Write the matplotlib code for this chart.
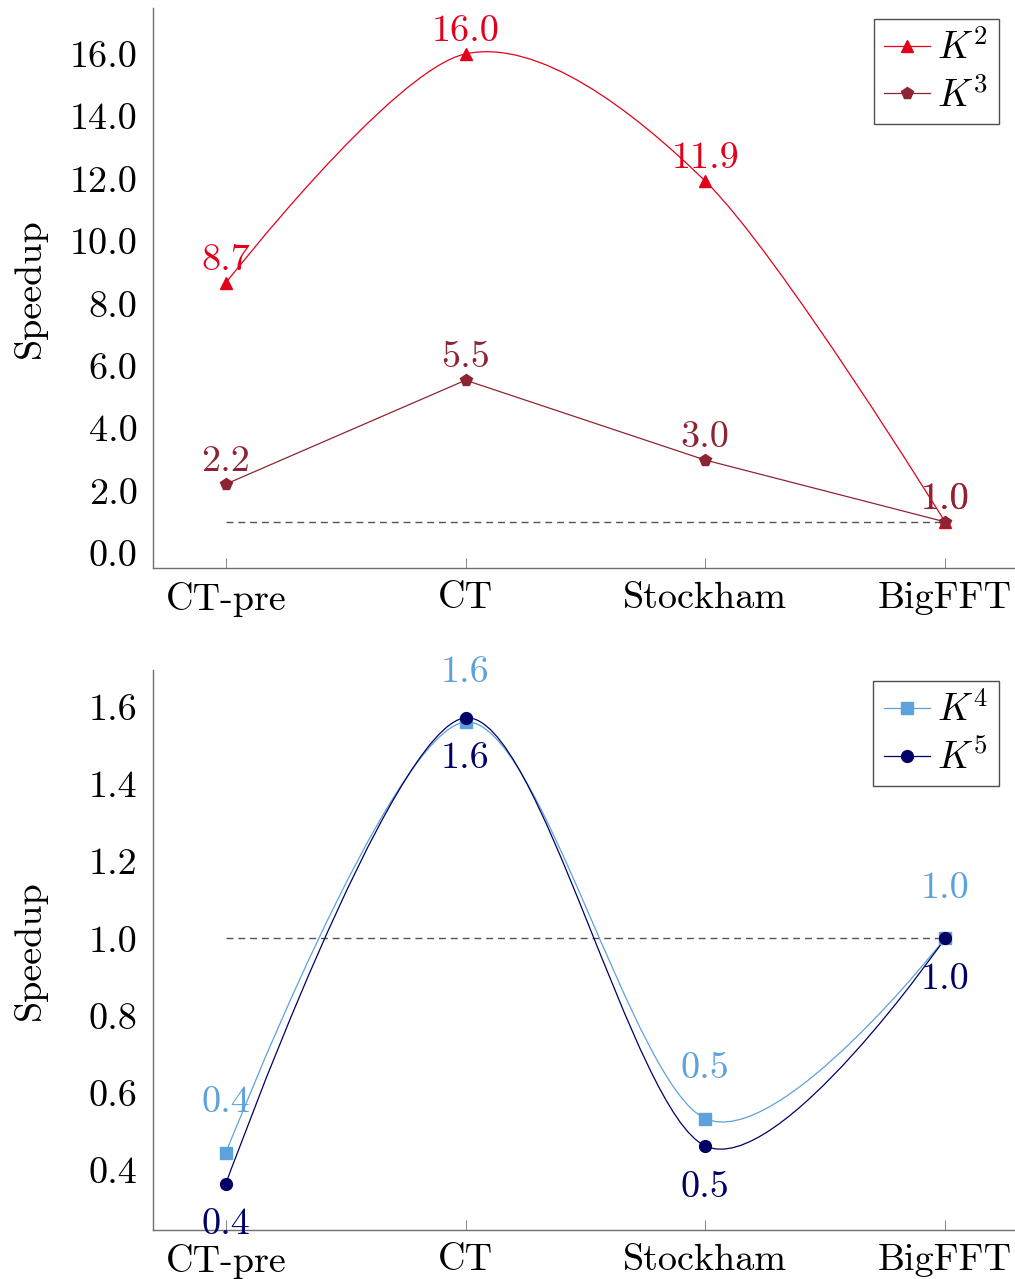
import matplotlib
matplotlib.use("Agg")
import matplotlib.pyplot as plt
from matplotlib.path import Path
from matplotlib.patches import PathPatch
from matplotlib.lines import Line2D
import numpy as np

# ---------------- data ----------------
categories = ["CT-pre", "CT", "Stockham", "BigFFT"]
k2 = [8.66, 16.0, 11.92, 1.0]
k3 = [2.21, 5.54, 2.98, 1.0]
k4 = [0.444, 1.561, 0.533, 1.0]
k5 = [0.364, 1.572, 0.462, 1.0]
baseline = 1.0
top_yticks = [0.0, 2.0, 4.0, 6.0, 8.0, 10.0, 12.0, 14.0, 16.0]
bot_yticks = [0.4, 0.6, 0.8, 1.0, 1.2, 1.4, 1.6]

# ---------------- style ----------------
plt.rcParams["font.family"] = "serif"
plt.rcParams["font.serif"] = ["cmr10"]
plt.rcParams["mathtext.fontset"] = "cm"
plt.rcParams["axes.formatter.use_mathtext"] = True
FS = 27.5

C_K2 = "#E3001B"
C_K3 = "#8E2433"
C_K4 = "#5DA2DA"
C_K5 = "#000066"
C_AX = "#707070"


def smooth_path(xs, ys, tension=0.55):
    f = 0.2775 * tension
    p = np.column_stack([np.asarray(xs, float), np.asarray(ys, float)])
    n = len(p)
    verts = [p[0]]
    codes = [Path.MOVETO]
    for i in range(n - 1):
        if i == 0:
            c1 = p[0]
        else:
            c1 = p[i] + f * (p[i + 1] - p[i - 1])
        if i + 1 == n - 1:
            c2 = p[n - 1]
        else:
            c2 = p[i + 1] - f * (p[i + 2] - p[i])
        verts += [c1, c2, p[i + 1]]
        codes += [Path.CURVE4] * 3
    return Path(verts, codes)


fig = plt.figure(figsize=(10.15, 12.79), dpi=100)
ax1 = fig.add_axes([153 / 1015, 1 - 568 / 1279, 862 / 1015, 560 / 1279])
ax2 = fig.add_axes([153 / 1015, 1 - 1230 / 1279, 862 / 1015, 560 / 1279])

x = np.arange(len(categories))


def style_axes(ax, yticks, ylim, fmt):
    ax.set_xlim(-0.304, 3.292)
    ax.set_ylim(*ylim)
    for s in ["top", "right"]:
        ax.spines[s].set_visible(False)
    for s in ["left", "bottom"]:
        ax.spines[s].set_color(C_AX)
        ax.spines[s].set_linewidth(1.0)
    ax.set_xticks(x)
    ax.set_xticklabels(categories, fontsize=FS)
    ax.set_yticks(yticks)
    ax.set_yticklabels([fmt.format(v) for v in yticks], fontsize=FS)
    ax.tick_params(axis="x", direction="in", length=7, width=0.6, color=C_AX, pad=10)
    ax.tick_params(axis="y", length=0, pad=11)
    ax.set_ylabel("Speedup", fontsize=FS)
    ax.yaxis.set_label_coords(-0.123, 0.5)
    ax.hlines(baseline, x[0], x[-1], colors="#555555", linestyles=(0, (5, 3.5)), linewidth=1.0, zorder=1)


style_axes(ax1, top_yticks, (-0.48, 17.47), "{:.1f}")
style_axes(ax2, bot_yticks, (0.244, 1.696), "{:.1f}")

# ---- top panel ----
ax1.add_patch(PathPatch(smooth_path(x, k2), fill=False, edgecolor=C_K2, lw=0.9, zorder=2))
ax1.plot(x, k2, linestyle="none", marker="^", color=C_K2, ms=8, zorder=3)
ax1.plot(x, k3, color=C_K3, lw=0.9, marker="p", ms=8.5, zorder=3)
for xi, v in zip(x, k2):
    ax1.annotate(f"{v:.1f}", (xi, v), xytext=(0, 16.5), textcoords="offset points",
                 ha="center", va="center", fontsize=FS, color=C_K2, zorder=4)
for xi, v in zip(x, k3):
    ax1.annotate(f"{v:.1f}", (xi, v), xytext=(0, 16.5), textcoords="offset points",
                 ha="center", va="center", fontsize=FS, color=C_K3, zorder=4)

h1 = [Line2D([], [], color=C_K2, lw=0.9, marker="^", ms=8),
      Line2D([], [], color=C_K3, lw=0.9, marker="p", ms=8.5)]
leg1 = ax1.legend(h1, [r"$K^2$", r"$K^3$"], loc="upper right",
                  bbox_to_anchor=((999 - 153) / 862, 1 - (19 - 8) / 560),
                  borderaxespad=0, fontsize=FS, frameon=True, fancybox=False,
                  edgecolor="#222222", handlelength=1.2, handletextpad=0.2,
                  borderpad=0.27, labelspacing=0.27, numpoints=1)
leg1.get_frame().set_linewidth(1.0)

# ---- bottom panel ----
ax2.add_patch(PathPatch(smooth_path(x, k4), fill=False, edgecolor=C_K4, lw=0.9, zorder=2))
ax2.plot(x, k4, linestyle="none", marker="s", color=C_K4, ms=8.5, zorder=3)
ax2.add_patch(PathPatch(smooth_path(x, k5), fill=False, edgecolor=C_K5, lw=0.9, zorder=2))
ax2.plot(x, k5, linestyle="none", marker="o", color=C_K5, ms=8.5, zorder=3)
for xi, v in zip(x, k4):
    ax2.annotate(f"{v:.1f}", (xi, v), xytext=(0, 36), textcoords="offset points",
                 ha="center", va="center", fontsize=FS, color=C_K4, zorder=4)
for xi, v in zip(x, k5):
    ax2.annotate(f"{v:.1f}", (xi, v), xytext=(0, -29.5), textcoords="offset points",
                 ha="center", va="center", fontsize=FS, color=C_K5, zorder=4)

h2 = [Line2D([], [], color=C_K4, lw=0.9, marker="s", ms=8.5),
      Line2D([], [], color=C_K5, lw=0.9, marker="o", ms=8.5)]
leg2 = ax2.legend(h2, [r"$K^4$", r"$K^5$"], loc="upper right",
                  bbox_to_anchor=((999 - 153) / 862, 1 - (681 - 670) / 560),
                  borderaxespad=0, fontsize=FS, frameon=True, fancybox=False,
                  edgecolor="#222222", handlelength=1.2, handletextpad=0.2,
                  borderpad=0.27, labelspacing=0.27, numpoints=1)
leg2.get_frame().set_linewidth(1.0)

fig.savefig("out.png", dpi=100)
